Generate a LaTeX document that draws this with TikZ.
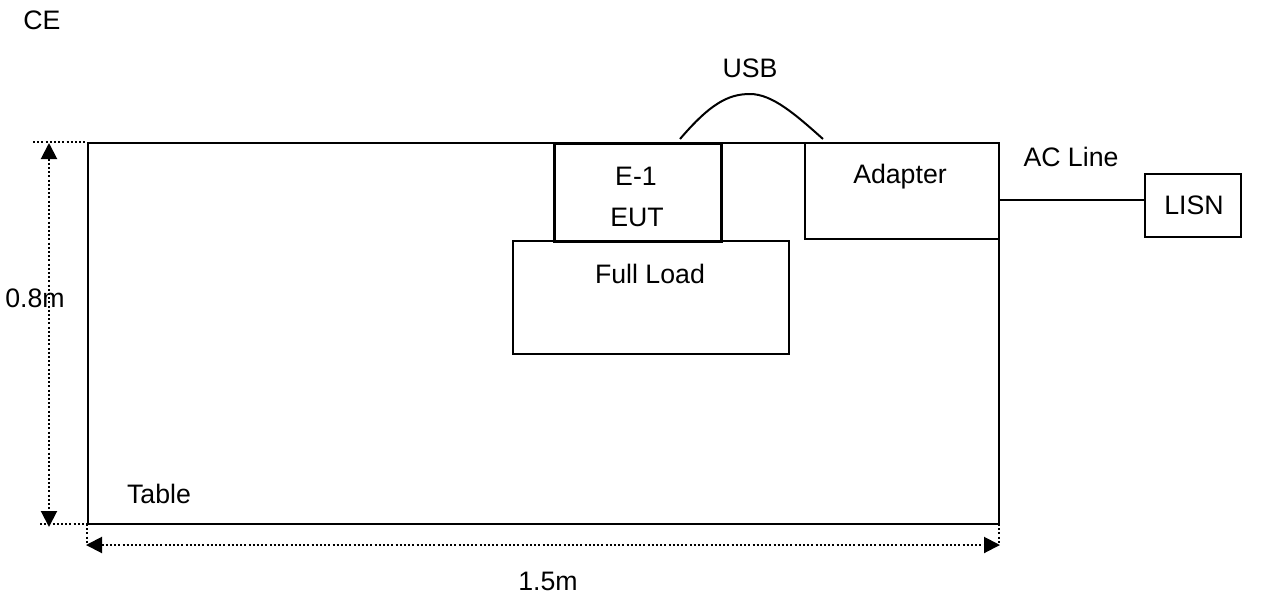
\documentclass[tikz,border=0pt]{standalone}
\usepackage{fontspec}
\setmainfont{Liberation Sans}
\usetikzlibrary{arrows.meta}
\begin{document}
\begin{tikzpicture}[x=1pt,y=-1pt,
  box/.style={draw,line width=2pt,rectangle,inner sep=0pt,anchor=north west},
  lbl/.style={inner sep=0pt,anchor=base,font=\fontsize{26.7}{32}\selectfont},
  dimline/.style={line width=2pt,dash pattern=on 2pt off 2.2pt},
  dimarrow/.style={dimline,{Triangle[length=16pt,width=16pt]}-{Triangle[length=16pt,width=16pt]}},
  wire/.style={line width=2pt}]
\useasboundingbox (0,0) rectangle (1270,600);
% boxes
\node[box,minimum width=911pt,minimum height=381pt] (table) at (87,142) {};
\node[box,line width=2.6pt,minimum width=167pt,minimum height=98pt] (eut) at (553,142) {};
\node[box,minimum width=276pt,minimum height=113pt] (load) at (512,240) {};
\node[box,minimum width=194pt,minimum height=96pt] (adapter) at (804,142) {};
\node[box,minimum width=96pt,minimum height=63pt] (lisn) at (1144,173) {};
% labels
\node[lbl] (ce) at (42,29) {CE};
\node[lbl] (usb) at (750,77) {USB};
\node[lbl] (e1) at (636,185) {E-1};
\node[lbl] (eutt) at (637,226) {EUT};
\node[lbl] (loadt) at (650,283) {Full Load};
\node[lbl] (adaptert) at (900,183) {Adapter};
\node[lbl] (acline) at (1071,166) {AC Line};
\node[lbl] (lisnt) at (1194,214) {LISN};
\node[lbl] (tablet) at (159,503) {Table};
\node[lbl] (h08) at (35,307) {0.8m};
\node[lbl] (w15) at (548,590) {1.5m};
% coordinates
\coordinate (usbA) at (680,139);
\coordinate (usbP) at (750,94);
\coordinate (usbB) at (823,139);
\coordinate (acA) at (998,200);
\coordinate (acB) at (1144,200);
\coordinate (vt) at (49,143);
\coordinate (vb) at (49,527);
\coordinate (hl) at (86,545);
\coordinate (hr) at (1000,545);
\coordinate (extT1) at (33,142);
\coordinate (extT2) at (87,142);
\coordinate (extB1) at (40,524);
\coordinate (extB2) at (108,524);
\coordinate (extL1) at (87,524);
\coordinate (extL2) at (87,545);
\coordinate (extR1) at (999,524);
\coordinate (extR2) at (999,545);
% connectors
\draw[wire] (usbA) .. controls (710,104) and (728,94) .. (usbP)
                   .. controls (772,94) and (795,114) .. (usbB);
\draw[wire] (acA) -- (acB);
% dimensions
\draw[dimarrow] (vt) -- (vb);
\draw[dimarrow] (hl) -- (hr);
\draw[dimline] (extT1) -- (extT2);
\draw[dimline] (extB1) -- (extB2);
\draw[dimline] (extL1) -- (extL2);
\draw[dimline] (extR1) -- (extR2);
\end{tikzpicture}
\end{document}
